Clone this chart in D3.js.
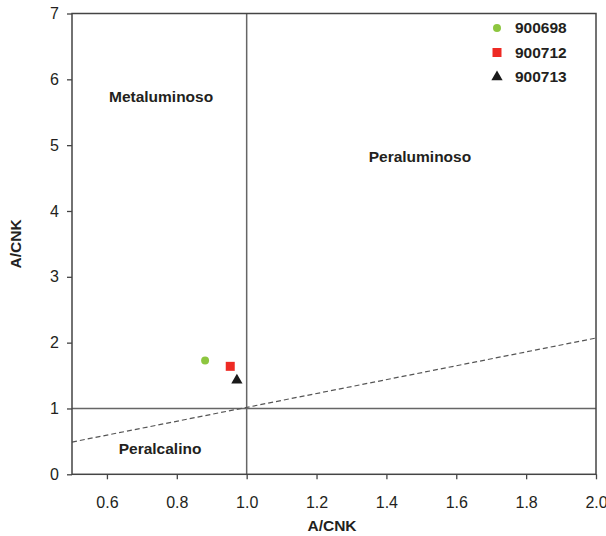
<!DOCTYPE html>
<html><head><meta charset="utf-8">
<script src="https://cdn.jsdelivr.net/npm/d3@7"></script>
<style>body{margin:0;background:#fff}svg{display:block}text{font-family:"Liberation Sans",Arial,sans-serif;fill:#231f20}</style>
</head><body><svg id="c" width="606" height="536"></svg>
<script>
const xTicks=[0.6,0.8,1.0,1.2,1.4,1.6,1.8,2.0];
const yTicks=[0,1,2,3,4,5,6,7];
const seriesNames=["900698","900712","900713"];
const seriesX=[0.881,0.953,0.972];
const seriesY=[1.73,1.64,1.43];
const seriesColors=["#8dc63f","#ee2a24","#1a1a1a"];
const seriesShapes=[d3.symbolCircle,d3.symbolSquare,d3.symbolTriangle];
const seriesSizes=[50,81,55];
const dashedX=[0.5,2.0];
const dashedY=[0.49,2.07];
const fieldLabels=["Metaluminoso","Peraluminoso","Peralcalino"];
const fieldX=[0.755,1.496,0.752];
const fieldY=[5.72,4.8,0.37];

const svg=d3.select("#c");
const L=72,R=596,T=13.5,B=474.3;
const x=d3.scaleLinear().domain([0.5,2.0]).range([L,R]);
const y=d3.scaleLinear().domain([0,7]).range([B,T]);

svg.append("line").attr("x1",x(1)).attr("x2",x(1)).attr("y1",T).attr("y2",B).attr("stroke","#666").attr("stroke-width",1.5);
svg.append("line").attr("x1",L).attr("x2",R).attr("y1",y(1)).attr("y2",y(1)).attr("stroke","#666").attr("stroke-width",1.5);
svg.append("line").attr("x1",x(dashedX[0])).attr("y1",y(dashedY[0])).attr("x2",x(dashedX[1])).attr("y2",y(dashedY[1]))
  .attr("stroke","#555").attr("stroke-width",1.2).attr("stroke-dasharray","5,3");

svg.append("rect").attr("x",L).attr("y",T).attr("width",R-L).attr("height",B-T).attr("fill","none").attr("stroke","#444").attr("stroke-width",1.5);

const xa=svg.append("g").attr("transform",`translate(0,${B})`).call(d3.axisBottom(x).tickValues(xTicks).tickFormat(d3.format(".1f")).tickSize(5).tickSizeOuter(0).tickPadding(17));
const ya=svg.append("g").attr("transform",`translate(${L},0)`).call(d3.axisLeft(y).tickValues(yTicks).tickFormat(d3.format("d")).tickSize(5).tickSizeOuter(0).tickPadding(8));
[xa,ya].forEach(a=>{a.select(".domain").remove();a.selectAll(".tick line").attr("stroke","#444").attr("stroke-width",1.3);
  a.selectAll(".tick text").attr("font-size",16).attr("font-family","Liberation Sans, Arial, sans-serif").attr("fill","#231f20");});

svg.selectAll(".fl").data(fieldLabels).enter().append("text").attr("x",(d,i)=>x(fieldX[i])).attr("y",(d,i)=>y(fieldY[i]))
  .attr("text-anchor","middle").attr("dominant-baseline","middle").attr("font-weight","bold").attr("font-size",15.5).text(d=>d);

seriesNames.forEach((n,i)=>{
  svg.append("path").attr("d",d3.symbol().type(seriesShapes[i]).size(seriesSizes[i])())
    .attr("transform",`translate(${x(seriesX[i])},${y(seriesY[i])})`).attr("fill",seriesColors[i]);
});

seriesNames.forEach((n,i)=>{
  const ly=28+i*24.5;
  svg.append("path").attr("d",d3.symbol().type(seriesShapes[i]).size(seriesSizes[i])()).attr("transform",`translate(497,${ly})`).attr("fill",seriesColors[i]);
  svg.append("text").attr("x",515).attr("y",ly+1).attr("dominant-baseline","middle").attr("font-weight","bold").attr("font-size",15.5).text(n);
});

svg.append("text").attr("x",332).attr("y",527).attr("text-anchor","middle").attr("dominant-baseline","middle").attr("font-weight","bold").attr("font-size",15.5).text("A/CNK");
svg.append("text").attr("transform",`translate(17,${(T+B)/2}) rotate(-90)`).attr("text-anchor","middle").attr("dominant-baseline","middle").attr("font-weight","bold").attr("font-size",15.5).text("A/CNK");
</script></body></html>
